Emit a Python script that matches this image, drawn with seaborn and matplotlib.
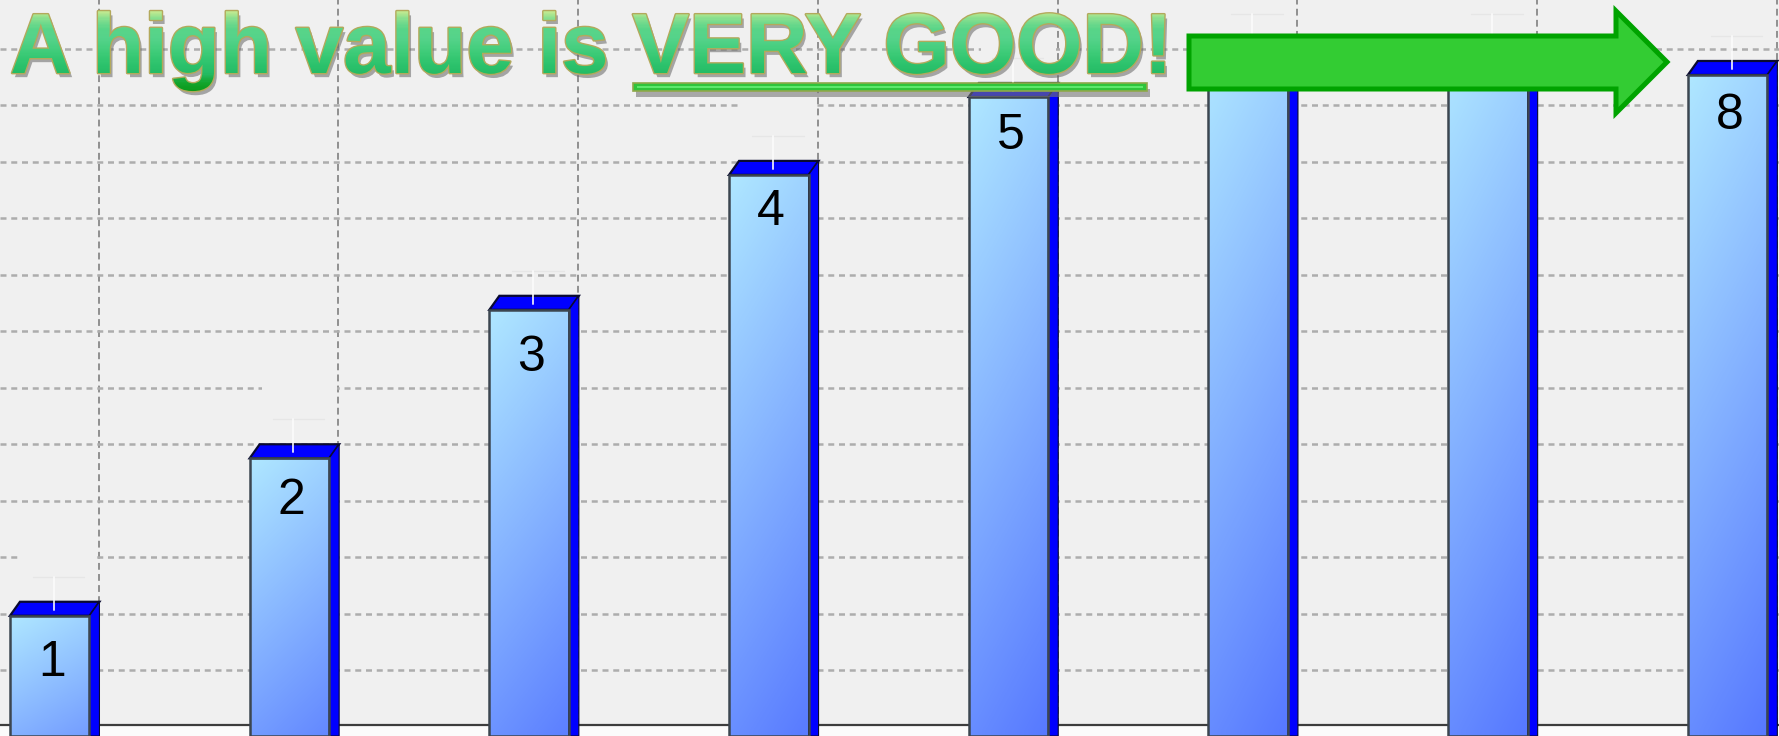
import numpy as np
import pandas as pd
import matplotlib
matplotlib.use('Agg')
import matplotlib.pyplot as plt
import matplotlib.transforms as mtransforms
import matplotlib.patheffects as pe
from matplotlib.colors import LinearSegmentedColormap, to_rgb
from matplotlib.patches import Polygon, Rectangle
import seaborn as sns

# data (bar height in gridline units)
categories = ['1', '2', '3', '4', '5', '6', '7', '8']
values = [2.13, 4.92, 7.55, 9.94, 11.32, 12.10, 12.10, 11.71]
# 6 and 7 have no visible number in the reference
bar_labels = ['1', '2', '3', '4', '5', '', '', '8']
title = 'A high value is VERY GOOD!'

W, H = 1779, 736
GRID_PX = 56.45
STEP_PX = 239.7
DEPTH_X = 10 / STEP_PX
DEPTH_Y = 14 / GRID_PX
label_drop_px = [47, 43, 48, 37, 39, 0, 0, 41]

sns.set_theme(style='whitegrid', rc={'axes.facecolor': '#f0f0f0', 'figure.facecolor': '#f0f0f0'})
plt.rcParams['font.family'] = ['Liberation Sans', 'DejaVu Sans']

df = pd.DataFrame({'cat': categories, 'val': values})

fig = plt.figure(figsize=(W / 100, H / 100), dpi=100)
ax = fig.add_axes([0, 0, 1, 1])
sns.barplot(data=df, x='cat', y='val', width=79.5 / STEP_PX, color='#7fa6f9',
            edgecolor='#3c4650', linewidth=1.8, saturation=1, ax=ax, zorder=3)
bars = list(ax.patches)

xlim = (-49.7 / STEP_PX, -49.7 / STEP_PX + W / STEP_PX)
ylim = (0, H / GRID_PX)

# pixels counted from the top left, for the things laid over the chart
px = mtransforms.Affine2D().scale(1 / W, -1 / H).translate(0, 1) + fig.transFigure

# grid
ax.set_xticks(np.arange(8) + 0.2045)
ax.set_yticks(np.arange(0, 13) + 0.17)
ax.tick_params(left=False, bottom=False, labelleft=False, labelbottom=False)
ax.set_xlabel('')
ax.set_ylabel('')
ax.set_axisbelow(True)
ax.xaxis.grid(True, color='#909090', lw=1.4, ls=(0, (3.5, 2.2)))
ax.yaxis.grid(True, color='#adadad', lw=1.8, ls=(0, (2.4, 1.9)))
for s in ax.spines.values():
    s.set_visible(False)

# floor
ax.axhspan(0, 11 / GRID_PX, color='#fbfbfb', zorder=0.7, lw=0)
ax.axhline(11 / GRID_PX, color='#3d3d3d', lw=1.6, zorder=1.5)

cmap = LinearSegmentedColormap.from_list('bar', ['#aee6ff', '#5070ff'])

for i, bar in enumerate(bars):
    left, right = bar.get_x(), bar.get_x() + bar.get_width()
    top = bar.get_height()
    h_px = top * GRID_PX

    # diagonal fill, clipped to the bar
    v, u = np.mgrid[0:1:60j, 0:1:10j]
    t = np.clip(0.16 * u + 0.9 * v * h_px / (h_px + 120), 0, 1)
    im = ax.imshow(t, cmap=cmap, vmin=0, vmax=1, extent=(left, right, 0, top), origin='upper',
                   aspect='auto', interpolation='bilinear', zorder=2.5)
    im.set_clip_path(bar)
    bar.set_facecolor('none')

    # fake 3d
    ax.add_patch(Polygon([(left, top), (left + DEPTH_X, top + DEPTH_Y), (right + DEPTH_X, top + DEPTH_Y),
                          (right, top)], fc='#0000ff', ec='#0a0a30', lw=1.6, zorder=2.8))
    ax.add_patch(Polygon([(right, top), (right + DEPTH_X, top + DEPTH_Y), (right + DEPTH_X, 0), (right, 0)],
                         fc='#0000ff', ec='#0a0a30', lw=0.8, zorder=2.8))

    # leader and the empty label box that hides the grid
    c = (left + right) / 2 + 4 / STEP_PX
    stub_bot = top + DEPTH_Y - 8 / GRID_PX
    stub_top = top + DEPTH_Y + 25 / GRID_PX
    ax.add_patch(Rectangle((left + 12 / STEP_PX, stub_top), (right - left) + (8 - 12) / STEP_PX, 50 / GRID_PX,
                           fc='#f0f0f0', ec='none', zorder=1))
    ax.plot([left + 23 / STEP_PX, right - 5 / STEP_PX], [stub_top, stub_top], color='#e6e6e6', lw=1, zorder=1.2)
    ax.plot([c, c], [stub_bot, stub_top], color='#fbfbfb', lw=1.4, alpha=0.85, zorder=3.2)

    if bar_labels[i]:
        ax.text((left + right) / 2 + 2 / STEP_PX, top - label_drop_px[i] / GRID_PX, bar_labels[i],
                ha='center', va='center', fontsize=36, color='black', zorder=4)

ax.set_xlim(xlim)
ax.set_ylim(ylim)


class GradientFill(pe.AbstractPathEffect):
    # fills the text path band by band, top to bottom
    def __init__(self, colors, bands=70):
        super().__init__()
        self.cmap = LinearSegmentedColormap.from_list('txt', colors)
        self.bands = bands

    def draw_path(self, renderer, gc, tpath, affine, rgbFace=None):
        box = tpath.get_extents(affine)
        edges = np.linspace(box.y1 + 1, box.y0 - 1, self.bands + 1)
        for k in range(self.bands):
            gc0 = renderer.new_gc()
            gc0.copy_properties(gc)
            gc0.set_linewidth(0)
            gc0.set_clip_rectangle(mtransforms.Bbox.from_extents(box.x0 - 5, edges[k + 1], box.x1 + 5, edges[k]))
            renderer.draw_path(gc0, tpath, affine, to_rgb(self.cmap(k / (self.bands - 1))[:3]))
            gc0.restore()


text_colors = ['#c4ea90', '#7fdd8e', '#58d488', '#55d38a', '#48cf80', '#38c974', '#2cc26c', '#24bb64',
               '#13a52e', '#0a9a18']

# underline sits below the title letters
ax.add_patch(Rectangle((633, 83), 514, 8, transform=px, fc='#2fc43a', ec='#8fa84a', lw=1.2, zorder=5,
                       path_effects=[pe.SimplePatchShadow(offset=(2, -4), shadow_rgbFace='#777777', alpha=0.6),
                                     pe.Normal()]))
ax.add_patch(Rectangle((637, 85.5), 506, 2.5, transform=px, fc='#5ce86a', ec='none', zorder=5.1))

ax.text(10, 73, title, transform=px, ha='left', va='baseline', fontsize=61.4, fontweight='bold',
        color='#3ccb74', zorder=6,
        path_effects=[pe.withSimplePatchShadow(offset=(2, -3), shadow_rgbFace='#666666', alpha=0.55),
                      pe.Stroke(linewidth=2.0, foreground='#b3a95c'),
                      GradientFill(text_colors)])

# arrow
ax.add_patch(Polygon([(1189, 36), (1616, 36), (1616, 11), (1667, 62), (1616, 113), (1616, 89), (1189, 89)],
                     transform=px, fc='#33cc33', ec='#00a300', lw=3.6, joinstyle='miter', zorder=7))

fig.savefig('out.png', dpi=100)
